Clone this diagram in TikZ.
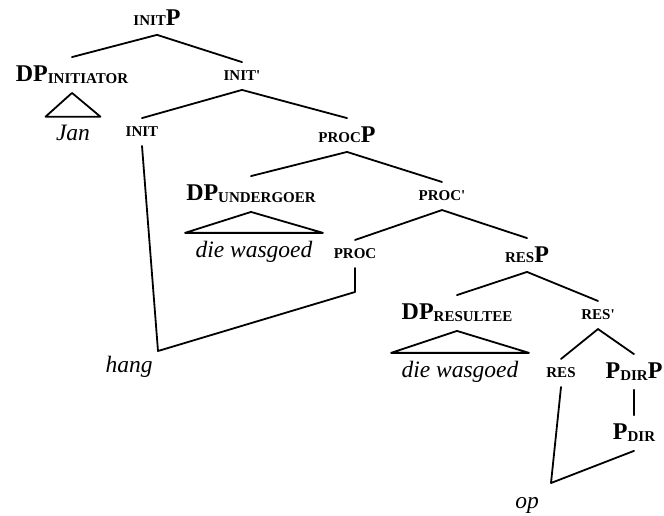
\documentclass[tikz,border=0pt]{standalone}
\usepackage{fontspec}
\setmainfont{Liberation Serif}
\newcommand\smc[1]{{\fontsize{15pt}{15pt}\selectfont #1}}
\newcommand\lowsc[1]{\raisebox{-2pt}{\smc{#1}}}

\begin{document}
\begin{tikzpicture}[x=1pt,y=-1pt,line join=round,line cap=round,line width=1.8pt]
	\tikzset{lab/.style={inner sep=9pt,outer sep=0pt,font=\bfseries\fontsize{24pt}{24pt}\selectfont},
		wrd/.style={inner xsep=10.5pt,inner ysep=8.5pt,outer sep=0pt,font=\itshape\fontsize{23.5pt}{24pt}\selectfont}}
	\useasboundingbox (0,0) rectangle (664,515);
	% labels
	\node[lab] (initP) at (157,18) {\smc{INIT}P};
	\node[lab] (dpinit) at (72,75) {DP\lowsc{INITIATOR}};
	\node[lab] (initbar) at (242,76) {\smc{INIT\textquotesingle}};
	\node[lab] (init) at (142,132) {\smc{INIT}};
	\node[lab] (procP) at (347,135) {\smc{PROC}P};
	\node[lab] (dpund) at (251,194) {DP\lowsc{UNDERGOER}};
	\node[lab] (procbar) at (442,196) {\smc{PROC\textquotesingle}};
	\node[lab] (proc) at (355,254) {\smc{PROC}};
	\node[lab] (resP) at (527,255) {\smc{RES}P};
	\node[lab] (dpres) at (457,313) {DP\lowsc{RESULTEE}};
	\node[lab] (resbar) at (598,315) {\smc{RES\textquotesingle}};
	\node[lab] (res) at (561,373) {\smc{RES}};
	\node[lab] (pdirP) at (634,372) {P\lowsc{DIR}P};
	\node[lab] (pdir) at (634,433) {P\lowsc{DIR}};
	% words
	\node[wrd] (jan) at (73,133) {Jan};
	\node[wrd] (wasg1) at (254,252) {die wasgoed};
	\node[wrd] (wasg2) at (460,372) {die wasgoed};
	\node[wrd] (hang) at (129,367) {hang};
	\node[wrd] (op) at (527,505) {op};
	\coordinate (hangc) at (158,351);
	\coordinate (procc) at (355,292);
	\coordinate (opc) at (551,483);
	% branches
	\foreach \a/\b in {initP/dpinit,initP/initbar,initbar/init,initbar/procP,procP/dpund,procP/procbar,procbar/proc,procbar/resP,resP/dpres,resP/resbar,resbar/res,resbar/pdirP,pdirP/pdir}
	\draw (\a.south) -- (\b.north);
	\foreach \a/\b in {dpinit/jan,dpund/wasg1,dpres/wasg2}
	\draw (\a.south) -- (\b.north west) -- (\b.north east) -- cycle;
	% head movement
	\draw (init.south) -- (hangc) -- (procc) -- (proc.south);
	\draw (res.south) -- (opc) -- (pdir.south);
\end{tikzpicture}
\end{document}
